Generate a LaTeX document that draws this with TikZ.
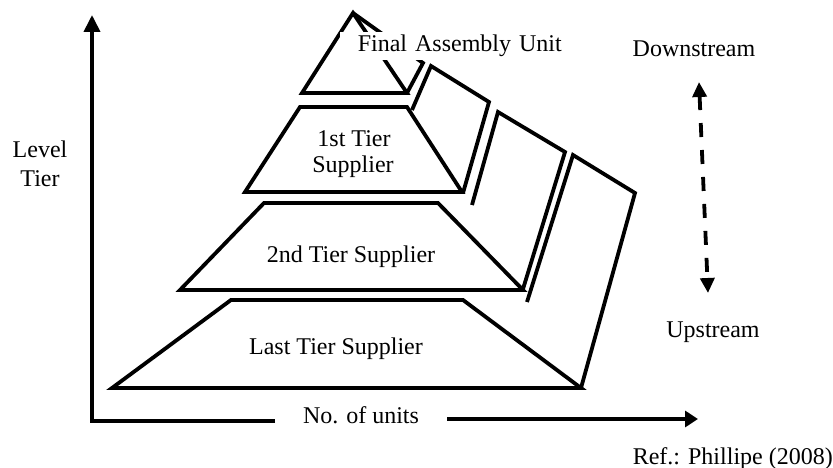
\documentclass[tikz,border=0pt]{standalone}
\usepackage{fontspec}
\setmainfont{Liberation Serif}
\usetikzlibrary{arrows.meta}
\begin{document}
\begin{tikzpicture}[x=1pt,y=-1pt,
  line join=miter,
  edge/.style={line width=3.8pt},
  lbl/.style={font=\fontsize{24}{27}\selectfont, inner sep=0pt, anchor=base},
  multi/.style={font=\fontsize{24}{27}\selectfont, inner sep=0pt, align=center},
]
\useasboundingbox (0,0) rectangle (833,468);
% tiers
\draw[edge] (353,13) -- (302,93) -- (407,93) -- cycle;
\draw[edge] (353,13) -- (423,63) -- (407,93);
\draw[edge] (300,107) -- (407,107) -- (462,192) -- (245,192) -- cycle;
\draw[edge] (264,203) -- (438,203) -- (523,290) -- (180,290) -- cycle;
\draw[edge] (231,300) -- (463,300) -- (581,388) -- (112,388) -- cycle;
% side panels
\draw[edge] (412,110) -- (431,66) -- (489,102) -- (463,193);
\draw[edge] (472,205) -- (498,112) -- (565,152) -- (523,289);
\draw[edge] (527,302) -- (573,155) -- (635,193) -- (581,388);
% labels
\node[font=\fontsize{24}{27}\selectfont, fill=white, inner sep=0pt, minimum height=28pt,
      text width=222pt, align=right, anchor=east] (fau) at (562,46) {Final Assembly Unit};
\node[lbl] (t1a) at (354,147) {1st Tier};
\node[lbl] (t1b) at (353,173) {Supplier};
\node[lbl] (t2) at (351,262) {2nd Tier Supplier};
\node[lbl] (tl) at (336,354) {Last Tier Supplier};
\node[lbl] (lev) at (40,158) {Level};
\node[lbl] (tier) at (40,186) {Tier};
\node[lbl] (units) at (361,423) {No. of units};
\node[lbl] (down) at (694,57) {Downstream};
\node[lbl] (up) at (713,337) {Upstream};
\node[lbl, anchor=base east] (ref) at (833,464) {Ref.: Phillipe (2008)};
% axes
\coordinate (origin) at (92,421);
\coordinate (ytip) at (92,15);
\coordinate (xl) at (275,421);
\coordinate (xr) at (447,419);
\coordinate (xtip) at (698,419);
\draw[edge, -{Triangle[length=17pt,width=16pt]}] (xl) -- (origin) -- (ytip);
\draw[edge, -{Triangle[length=13pt,width=16pt]}] (xr) -- (xtip);
% dashed direction arrow
\coordinate (dtop) at (699,82);
\coordinate (dbot) at (708,293);
\draw[edge, dash pattern=on 14pt off 13pt,
      {Triangle[length=15pt,width=14pt]}-{Triangle[length=15pt,width=14pt]}] (dtop) -- (dbot);
\end{tikzpicture}
\end{document}
